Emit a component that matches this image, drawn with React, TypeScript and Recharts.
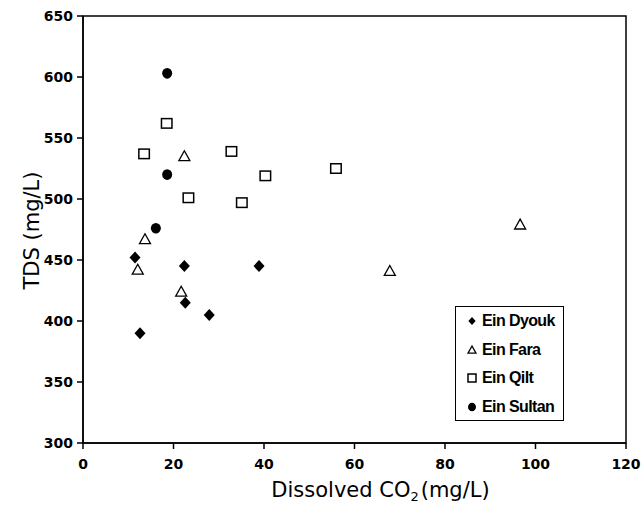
import React from 'react';
import { ScatterChart, Scatter, XAxis, YAxis, ReferenceArea, Legend } from 'recharts';

const dyoukCO2 = [11.5, 12.6, 22.4, 22.6, 27.9, 38.9];
const dyoukTDS = [452, 390, 445, 415, 405, 445];
const faraCO2 = [22.4, 13.7, 12.1, 21.7, 67.8, 96.6];
const faraTDS = [535, 467, 442, 424, 441, 479];
const qiltCO2 = [18.5, 13.5, 32.8, 40.3, 55.9, 23.3, 35.1];
const qiltTDS = [562, 537, 539, 519, 525, 501, 497];
const sultanCO2 = [18.6, 18.6, 16.1];
const sultanTDS = [603, 520, 476];

const xTicks = [0, 20, 40, 60, 80, 100, 120];
const yTicks = [300, 350, 400, 450, 500, 550, 600, 650];

const zip = (xs: number[], ys: number[]) => xs.map((x, i) => ({ co2: x, tds: ys[i] }));

const dyouk = zip(dyoukCO2, dyoukTDS);
const fara = zip(faraCO2, faraTDS);
const qilt = zip(qiltCO2, qiltTDS);
const sultan = zip(sultanCO2, sultanTDS);

const Diamond = (p: any) => {
  const { cx, cy } = p;
  const s = p.s ?? 6;
  return <path d={`M${cx},${cy - s}L${cx + s * 0.92},${cy}L${cx},${cy + s}L${cx - s * 0.92},${cy}Z`} fill="#000" />;
};
const Triangle = (p: any) => {
  const { cx, cy } = p;
  const s = p.s ?? 5.5;
  return (
    <path
      d={`M${cx},${cy - s}L${cx + s},${cy + s * 0.8}L${cx - s},${cy + s * 0.8}Z`}
      fill="#fff"
      stroke="#000"
      strokeWidth={1.3}
    />
  );
};
const Square = (p: any) => {
  const { cx, cy } = p;
  const w = p.w ?? 10.5;
  const h = p.h ?? 9.5;
  return <rect x={cx - w / 2} y={cy - h / 2} width={w} height={h} fill="#fff" stroke="#000" strokeWidth={1.5} />;
};
const Dot = (p: any) => {
  const { cx, cy } = p;
  return <ellipse cx={cx} cy={cy} rx={p.rx ?? 5} ry={p.ry ?? 5.3} fill="#000" />;
};

const legendSymbols: Record<string, (cx: number, cy: number) => React.ReactNode> = {
  'Ein Dyouk': (cx, cy) => <Diamond cx={cx} cy={cy} s={4} />,
  'Ein Fara': (cx, cy) => <Triangle cx={cx} cy={cy} s={4} />,
  'Ein Qilt': (cx, cy) => <Square cx={cx} cy={cy} w={8} h={8} />,
  'Ein Sultan': (cx, cy) => <Dot cx={cx} cy={cy} rx={4} ry={4.3} />,
};

const LegendContent = (props: any) => {
  const { payload } = props;
  return (
    <div
      style={{
        width: 109,
        height: 115,
        border: '1.5px solid #000',
        boxSizing: 'border-box',
        background: '#fff',
        paddingTop: 0,
      }}
    >
      {(payload || []).map((e: any) => (
        <div key={e.value} style={{ height: 28.5, display: 'flex', alignItems: 'center', position: 'relative' }}>
          <svg width={26} height={14} style={{ display: 'block' }}>
            {legendSymbols[e.value]?.(16, 7)}
          </svg>
          <span
            style={{
              fontFamily: 'Liberation Sans, Arial, sans-serif',
              fontWeight: 'bold',
              fontSize: 16,
              letterSpacing: -0.6,
              color: '#000',
              whiteSpace: 'nowrap',
            }}
          >
            {e.value}
          </span>
        </div>
      ))}
    </div>
  );
};

const XLabel = (props: any) => {
  const vb = props.viewBox || { x: 83, y: 443, width: 543, height: 62 };
  const x = vb.x + vb.width / 2 + 26;
  const y = vb.y + 54;
  return (
    <text x={x} y={y} textAnchor="middle" fontFamily="DejaVu Sans" fontSize={21} fill="#000">
      Dissolved CO
      <tspan dy={4} fontSize={13}>2</tspan>
      <tspan dy={-4} dx={2}>(mg/L)</tspan>
    </text>
  );
};

const YLabel = (props: any) => {
  const vb = props.viewBox || { x: 0, y: 16, width: 83, height: 427 };
  const x = 32;
  const y = vb.y + vb.height / 2 + 1;
  return (
    <text
      x={x}
      y={y}
      transform={`rotate(-90, ${x}, ${y})`}
      textAnchor="middle"
      dominantBaseline="central"
      fontFamily="DejaVu Sans"
      fontSize={21}
      fill="#000"
    >
      TDS (mg/L)
    </text>
  );
};

const tickStyle = { fontFamily: 'DejaVu Sans', fontWeight: 'bold', fontSize: 14, fill: '#000' } as any;

export default function App() {
  return (
    <div style={{ position: 'absolute', left: 0, top: 0, width: 644, height: 505, background: '#fff' }}>
      <ScatterChart width={644} height={505} margin={{ top: 16, right: 18, bottom: 0, left: 0 }}>
        <XAxis
          type="number"
          dataKey="co2"
          domain={[0, 120]}
          ticks={xTicks}
          interval={0}
          height={62}
          tickSize={6}
          tickMargin={10}
          tick={tickStyle}
          axisLine={{ stroke: '#000', strokeWidth: 1.5 }}
          tickLine={{ stroke: '#000', strokeWidth: 1.5 }}
          label={{ content: XLabel } as any}
          allowDataOverflow
        />
        <YAxis
          type="number"
          dataKey="tds"
          domain={[300, 650]}
          ticks={yTicks}
          interval={0}
          width={83}
          tickSize={6}
          tickMargin={4}
          tick={tickStyle}
          axisLine={{ stroke: '#000', strokeWidth: 1.5 }}
          tickLine={{ stroke: '#000', strokeWidth: 1.5 }}
          label={{ content: YLabel } as any}
          allowDataOverflow
        />
        <ReferenceArea x1={0} x2={120} y1={300} y2={650} fill="none" fillOpacity={0} stroke="#000" strokeWidth={1.5} strokeOpacity={1} />
        <Scatter name="Ein Dyouk" data={dyouk} shape={(p: any) => <Diamond {...p} />} isAnimationActive={false} />
        <Scatter name="Ein Fara" data={fara} shape={(p: any) => <Triangle {...p} />} isAnimationActive={false} />
        <Scatter name="Ein Qilt" data={qilt} shape={(p: any) => <Square {...p} />} isAnimationActive={false} />
        <Scatter name="Ein Sultan" data={sultan} shape={(p: any) => <Dot {...p} />} isAnimationActive={false} />
        <Legend
          layout="horizontal"
          verticalAlign="middle"
          align="center"
          content={LegendContent as any}
          wrapperStyle={{ left: 455, top: 306, right: 'auto', bottom: 'auto', width: 109, height: 115 }}
        />
      </ScatterChart>
    </div>
  );
}
